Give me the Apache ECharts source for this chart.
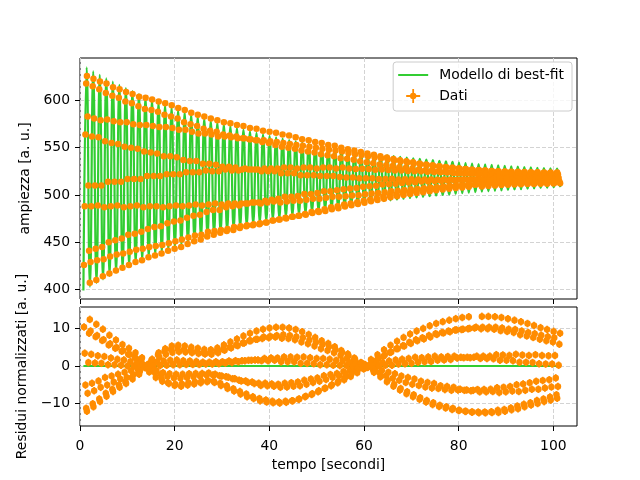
<!DOCTYPE html>
<html>
<head>
<meta charset="utf-8">
<title>Ampiezza e residui</title>
<script src="https://cdn.jsdelivr.net/npm/echarts@6.0.0/dist/echarts.min.js"></script>
<style>
  html, body { margin: 0; padding: 0; background: #fff; }
  #grafico { width: 640px; height: 480px; }
</style>
</head>
<body>
<div id="grafico"></div>
<script>
// modello di best-fit: massimi e minimi dell'oscillazione smorzata
const tempiModello = [
    0.72, 1.41, 2.10, 2.79, 3.48, 4.17, 4.86, 5.55, 6.24, 6.93, 7.62, 8.31, 9.00, 9.69, 10.38, 11.07, 11.76, 12.45, 13.14, 13.83,
    14.52, 15.21, 15.90, 16.59, 17.28, 17.97, 18.66, 19.35, 20.04, 20.73, 21.42, 22.11, 22.80, 23.49, 24.18, 24.87, 25.56, 26.25,
    26.94, 27.63, 28.32, 29.01, 29.70, 30.39, 31.08, 31.77, 32.46, 33.15, 33.84, 34.53, 35.22, 35.91, 36.60, 37.29, 37.98, 38.67,
    39.36, 40.05, 40.74, 41.43, 42.12, 42.81, 43.50, 44.19, 44.88, 45.57, 46.26, 46.95, 47.64, 48.33, 49.02, 49.71, 50.40, 51.09,
    51.78, 52.47, 53.16, 53.85, 54.54, 55.23, 55.92, 56.61, 57.30, 57.99, 58.68, 59.37, 60.06, 60.75, 61.44, 62.13, 62.82, 63.51,
    64.20, 64.89, 65.58, 66.27, 66.96, 67.65, 68.34, 69.03, 69.72, 70.41, 71.10, 71.79, 72.48, 73.17, 73.86, 74.55, 75.24, 75.93,
    76.62, 77.31, 78.00, 78.69, 79.38, 80.07, 80.76, 81.45, 82.14, 82.83, 83.52, 84.21, 84.90, 85.59, 86.28, 86.97, 87.66, 88.35,
    89.04, 89.73, 90.42, 91.11, 91.80, 92.49, 93.18, 93.87, 94.56, 95.25, 95.94, 96.63, 97.32, 98.01, 98.70, 99.39, 100.08, 100.77,
    101.46
];
const ampiezzaModello = [
    399.0, 635.0, 403.0, 631.0, 406.9, 627.2, 410.7, 623.5, 414.3, 619.9, 417.8, 616.5, 421.2, 613.1, 424.5, 609.9, 427.7, 606.8, 430.7, 603.8,
    433.7, 600.9, 436.5, 598.1, 439.3, 595.3, 442.0, 592.7, 444.6, 590.2, 447.0, 587.7, 449.5, 585.4, 451.7, 583.1, 454.0, 580.9,
    456.2, 578.7, 458.3, 576.7, 460.3, 574.7, 462.3, 572.8, 464.1, 570.9, 466.0, 569.1, 467.8, 567.4, 469.4, 565.7, 471.1, 564.1,
    472.7, 562.5, 474.3, 561.0, 475.7, 559.6, 477.1, 558.2, 478.5, 556.8, 479.9, 555.5, 481.1, 554.2, 482.4, 553.0, 483.6, 551.8,
    484.8, 550.7, 485.9, 549.6, 486.9, 548.5, 488.0, 547.5, 489.0, 546.5, 490.0, 545.5, 491.0, 544.6, 491.9, 543.7, 492.7, 542.8,
    493.6, 542.0, 494.4, 541.2, 495.2, 540.4, 496.0, 539.6, 496.8, 538.9, 497.5, 538.2, 498.1, 537.5, 498.8, 536.8, 499.5, 536.2,
    500.1, 535.6, 500.7, 535.0, 501.3, 534.4, 501.9, 533.8, 502.5, 533.3, 503.0, 532.8, 503.5, 532.3, 503.9, 531.8, 504.4, 531.3,
    504.9, 530.9, 505.3, 530.4, 505.8, 530.0, 506.2, 529.6, 506.6, 529.2, 507.0, 528.8, 507.4, 528.5, 507.7, 528.1, 508.1, 527.8,
    508.4
];

// dati campionati (una riga per periodo)
const tempiDati = [
    0.85, 1.00, 1.15, 1.31, 1.46, 1.61, 1.77, 1.92, 2.07,
    2.23, 2.38, 2.53, 2.69, 2.84, 2.99, 3.15, 3.30, 3.45,
    3.61, 3.76, 3.91, 4.07, 4.22, 4.37, 4.53, 4.68, 4.83,
    4.99, 5.14, 5.29, 5.45, 5.60, 5.75, 5.91, 6.06, 6.21,
    6.37, 6.52, 6.67, 6.83, 6.98, 7.13, 7.29, 7.44, 7.59,
    7.75, 7.90, 8.05, 8.21, 8.36, 8.51, 8.67, 8.82, 8.97,
    9.12, 9.27, 9.42, 9.58, 9.73, 9.88, 10.04, 10.19, 10.34,
    10.50, 10.65, 10.80, 10.96, 11.11, 11.26, 11.42, 11.57, 11.72,
    11.88, 12.03, 12.18, 12.34, 12.49, 12.64, 12.80, 12.95, 13.10,
    13.25, 13.40, 13.55, 13.71, 13.86, 14.01, 14.17, 14.32, 14.47,
    14.63, 14.78, 14.93, 15.09, 15.24, 15.39, 15.55, 15.70, 15.85,
    16.01, 16.16, 16.31, 16.47, 16.62, 16.77, 16.93, 17.08, 17.23,
    17.39, 17.54, 17.69, 17.85, 18.00, 18.15, 18.31, 18.46, 18.61,
    18.77, 18.92, 19.07, 19.23, 19.38, 19.53, 19.69, 19.84, 19.99,
    20.15, 20.30, 20.45, 20.61, 20.76, 20.91, 21.07, 21.22, 21.37,
    21.52, 21.67, 21.82, 21.98, 22.13, 22.28, 22.44, 22.59, 22.74,
    22.90, 23.05, 23.20, 23.36, 23.51, 23.66, 23.82, 23.97, 24.12,
    24.28, 24.43, 24.58, 24.74, 24.89, 25.04, 25.20, 25.35, 25.50,
    25.65, 25.80, 25.95, 26.11, 26.26, 26.41, 26.57, 26.72, 26.87,
    27.03, 27.18, 27.33, 27.49, 27.64, 27.79, 27.95, 28.10, 28.25,
    28.41, 28.56, 28.71, 28.87, 29.02, 29.17, 29.33, 29.48, 29.63,
    29.79, 29.94, 30.09, 30.25, 30.40, 30.55, 30.71, 30.86, 31.01,
    31.17, 31.32, 31.47, 31.63, 31.78, 31.93, 32.09, 32.24, 32.39,
    32.55, 32.70, 32.85, 33.01, 33.16, 33.31, 33.47, 33.62, 33.77,
    33.92, 34.07, 34.22, 34.38, 34.53, 34.68, 34.84, 34.99, 35.14,
    35.30, 35.45, 35.60, 35.76, 35.91, 36.06, 36.22, 36.37, 36.52,
    36.68, 36.83, 36.98, 37.14, 37.29, 37.44, 37.60, 37.75, 37.90,
    38.05, 38.20, 38.35, 38.51, 38.66, 38.81, 38.97, 39.12, 39.27,
    39.43, 39.58, 39.73, 39.89, 40.04, 40.19, 40.35, 40.50, 40.65,
    40.81, 40.96, 41.11, 41.27, 41.42, 41.57, 41.73, 41.88, 42.03,
    42.19, 42.34, 42.49, 42.65, 42.80, 42.95, 43.11, 43.26, 43.41,
    43.57, 43.72, 43.87, 44.03, 44.18, 44.33, 44.49, 44.64, 44.79,
    44.95, 45.10, 45.25, 45.41, 45.56, 45.71, 45.87, 46.02, 46.17,
    46.32, 46.47, 46.62, 46.78, 46.93, 47.08, 47.24, 47.39, 47.54,
    47.70, 47.85, 48.00, 48.16, 48.31, 48.46, 48.62, 48.77, 48.92,
    49.08, 49.23, 49.38, 49.54, 49.69, 49.84, 50.00, 50.15, 50.30,
    50.45, 50.60, 50.75, 50.91, 51.06, 51.21, 51.37, 51.52, 51.67,
    51.83, 51.98, 52.13, 52.29, 52.44, 52.59, 52.75, 52.90, 53.05,
    53.21, 53.36, 53.51, 53.67, 53.82, 53.97, 54.13, 54.28, 54.43,
    54.59, 54.74, 54.89, 55.05, 55.20, 55.35, 55.51, 55.66, 55.81,
    55.97, 56.12, 56.27, 56.43, 56.58, 56.73, 56.89, 57.04, 57.19,
    57.35, 57.50, 57.65, 57.81, 57.96, 58.11, 58.27, 58.42, 58.57,
    58.72, 58.87, 59.02, 59.18, 59.33, 59.48, 59.64, 59.79, 59.94,
    60.10, 60.25, 60.40, 60.56, 60.71, 60.86, 61.02, 61.17, 61.32,
    61.48, 61.63, 61.78, 61.94, 62.09, 62.24, 62.40, 62.55, 62.70,
    62.85, 63.00, 63.15, 63.31, 63.46, 63.61, 63.77, 63.92, 64.07,
    64.23, 64.38, 64.53, 64.69, 64.84, 64.99, 65.15, 65.30, 65.45,
    65.61, 65.76, 65.91, 66.07, 66.22, 66.37, 66.53, 66.68, 66.83,
    66.98, 67.13, 67.28, 67.44, 67.59, 67.74, 67.90, 68.05, 68.20,
    68.36, 68.51, 68.66, 68.82, 68.97, 69.12, 69.28, 69.43, 69.58,
    69.74, 69.89, 70.04, 70.20, 70.35, 70.50, 70.66, 70.81, 70.96,
    71.12, 71.27, 71.42, 71.58, 71.73, 71.88, 72.04, 72.19, 72.34,
    72.50, 72.65, 72.80, 72.96, 73.11, 73.26, 73.42, 73.57, 73.72,
    73.88, 74.03, 74.18, 74.34, 74.49, 74.64, 74.80, 74.95, 75.10,
    75.25, 75.40, 75.55, 75.71, 75.86, 76.01, 76.17, 76.32, 76.47,
    76.63, 76.78, 76.93, 77.09, 77.24, 77.39, 77.55, 77.70, 77.85,
    78.01, 78.16, 78.31, 78.47, 78.62, 78.77, 78.93, 79.08, 79.23,
    79.38, 79.53, 79.68, 79.84, 79.99, 80.14, 80.30, 80.45, 80.60,
    80.76, 80.91, 81.06, 81.22, 81.37, 81.52, 81.68, 81.83, 81.98,
    82.14, 82.29, 82.44, 82.60, 82.75, 82.90, 83.06, 83.21, 83.36,
    83.67, 83.82, 83.98, 84.13, 84.28, 84.44, 84.59, 84.74, 84.90,
    85.05, 85.20, 85.36, 85.51, 85.66, 85.82, 85.97, 86.12, 86.28,
    86.43, 86.58, 86.74, 86.89, 87.04, 87.20, 87.35, 87.50, 87.66,
    87.80, 87.95, 88.11, 88.26, 88.41, 88.57, 88.72, 88.87, 89.03,
    89.18, 89.33, 89.49, 89.64, 89.79, 89.95, 90.10, 90.25, 90.41,
    90.56, 90.71, 90.87, 91.02, 91.17, 91.33, 91.48, 91.63, 91.79,
    91.93, 92.08, 92.24, 92.39, 92.54, 92.70, 92.85, 93.00, 93.16,
    93.31, 93.46, 93.62, 93.77, 93.92, 94.08, 94.23, 94.38, 94.54,
    94.69, 94.84, 95.00, 95.15, 95.30, 95.46, 95.61, 95.76, 95.92,
    96.07, 96.22, 96.38, 96.53, 96.68, 96.84, 96.99, 97.14, 97.30,
    97.45, 97.60, 97.76, 97.91, 98.06, 98.22, 98.37, 98.52, 98.68,
    98.83, 98.98, 99.14, 99.29, 99.44, 99.60, 99.75, 99.90, 100.06,
    100.20, 100.35, 100.51, 100.66, 100.81, 100.97, 101.12, 101.27, 101.43
];
const ampiezzaDati = [
    426, 488, 564, 618, 626, 583, 510, 441, 407,
    429, 488, 562, 615, 623, 581, 510, 443, 410,
    431, 489, 561, 612, 620, 579, 510, 445, 414,
    432, 487, 557, 608, 618, 580, 514, 450, 417,
    435, 488, 555, 605, 614, 578, 514, 452, 420,
    437, 489, 554, 603, 612, 577, 514, 454, 423,
    438, 487, 551, 599, 609, 577, 517, 458, 426,
    440, 488, 550, 597, 607, 575, 517, 459, 429,
    442, 489, 549, 594, 604, 574, 517, 461, 431,
    443, 487, 546, 591, 603, 574, 520, 464, 434,
    445, 488, 545, 590, 601, 573, 520, 466, 436,
    446, 488, 544, 588, 599, 572, 520, 467, 438,
    447, 487, 541, 585, 597, 572, 522, 470, 441,
    449, 488, 541, 583, 595, 571, 522, 472, 443,
    451, 489, 540, 581, 592, 569, 522, 473, 445,
    453, 488, 537, 577, 590, 569, 524, 476, 448,
    455, 489, 536, 575, 587, 567, 524, 478, 451,
    457, 490, 536, 573, 585, 565, 524, 479, 453,
    458, 489, 533, 570, 583, 565, 526, 482, 456,
    461, 490, 533, 568, 581, 564, 525, 484, 458,
    462, 491, 532, 567, 579, 562, 525, 484, 460,
    463, 490, 530, 564, 577, 562, 527, 487, 462,
    464, 491, 530, 563, 576, 561, 526, 488, 463,
    466, 491, 529, 562, 574, 560, 526, 489, 465,
    467, 491, 527, 560, 573, 560, 528, 491, 467,
    468, 491, 527, 559, 571, 559, 527, 492, 468,
    469, 492, 527, 558, 570, 558, 527, 492, 469,
    470, 491, 525, 556, 568, 558, 528, 494, 471,
    471, 492, 525, 555, 567, 557, 528, 495, 473,
    473, 493, 525, 553, 566, 556, 528, 496, 474,
    474, 492, 523, 551, 564, 555, 529, 498, 476,
    475, 493, 523, 550, 563, 554, 529, 498, 477,
    477, 494, 523, 549, 561, 553, 528, 499, 478,
    478, 494, 521, 547, 559, 552, 529, 501, 480,
    479, 495, 521, 546, 558, 551, 529, 501, 482,
    481, 496, 521, 545, 556, 550, 528, 502, 483,
    482, 496, 520, 543, 555, 549, 529, 504, 485,
    483, 497, 520, 542, 553, 548, 529, 504, 487,
    485, 498, 520, 541, 552, 547, 528, 505, 488,
    486, 498, 519, 539, 550, 546, 529, 506, 490,
    487.7, 498.6, 518.5, 538.3, 548.5, 544.5, 528.1, 506.9, 491.0,
    489.1, 499.5, 518.5, 537.3, 547.0, 543.2, 527.6, 507.5, 492.3,
    490.5, 499.8, 517.6, 535.6, 545.4, 542.4, 527.9, 508.8, 494.0,
    491.9, 500.8, 517.6, 534.7, 543.9, 541.0, 527.4, 509.3, 495.3,
    493.4, 501.7, 517.7, 533.7, 542.5, 539.7, 526.8, 509.8, 496.6,
    494.7, 502.1, 516.9, 532.3, 540.9, 538.9, 527.0, 511.0, 498.2,
    496.1, 503.0, 517.0, 531.4, 539.6, 537.6, 526.5, 511.4, 499.4,
    497.5, 504.0, 517.1, 530.6, 538.2, 536.4, 525.9, 511.8, 500.5,
    498.7, 504.4, 516.5, 529.3, 536.8, 535.5, 526.0, 512.8, 502.0,
    499.9, 505.3, 516.6, 528.6, 535.6, 534.4, 525.5, 513.1, 503.0,
    501.0, 506.0, 516.7, 528.0, 534.6, 533.4, 525.1, 513.4, 503.9,
    502.0, 506.4, 516.3, 526.9, 533.4, 532.6, 525.1, 514.2, 505.1,
    503.0, 507.2, 516.4, 526.3, 532.4, 531.7, 524.6, 514.4, 505.9,
    504.0, 507.9, 516.5, 525.8, 531.4, 530.8, 524.2, 514.7, 506.7,
    504.9, 508.3, 516.2, 525.0, 530.5, 530.1, 524.1, 515.2, 507.7,
    505.7, 508.9, 516.3, 524.5, 529.7, 529.4, 523.8, 515.4, 508.3,
    506.5, 509.5, 516.4, 524.1, 528.9, 528.7, 523.4, 515.6, 508.9,
    507.3, 509.8, 516.2, 523.4, 528.1, 528.0, 523.3, 516.1, 509.8,
    508.0, 510.4, 516.3, 523.1, 527.4, 527.4, 523.0, 516.2, 510.3,
    508.6, 510.8, 516.4, 522.7, 526.8, 526.8, 522.7, 516.3, 510.8,
    511.0, 516.2, 522.2, 526.3, 526.4, 522.6, 516.7, 511.3, 509.1,
    511.4, 516.3, 522.0, 525.8, 526.0, 522.4, 516.8, 511.7, 509.6,
    511.8, 516.4, 521.8, 525.3, 525.5, 522.1, 516.8, 512.1, 510.1,
    512.0, 516.3, 521.4, 524.9, 525.2, 522.1, 517.1, 512.5, 510.5,
    512.2, 516.3, 521.2, 524.6, 524.9, 522.0, 517.2, 512.8, 510.8,
    512.5, 516.4, 521.1, 524.3, 524.6, 521.8, 517.2, 513.0, 511.1,
    512.5, 516.3, 520.8, 524.1, 524.5, 521.9, 517.4, 513.3, 511.3,
    512.7, 516.3, 520.7, 523.9, 524.3, 521.7, 517.4, 513.4, 511.5,
    512.8, 516.4, 520.7, 523.7, 524.1, 521.6, 517.5, 513.6, 511.7,
    512.8, 516.2, 520.4, 523.5, 524.0, 521.7, 517.7, 513.8, 511.8,
    512.9, 516.2, 520.4, 523.4, 523.9, 521.7, 517.7, 513.8, 511.9,
    513.1, 516.3, 520.3, 523.3, 523.7, 521.5, 517.7, 514.0, 512.1,
    513.0, 516.1, 520.1, 523.1, 523.7, 521.6, 517.9, 514.2, 512.3
];
const residuiDati = [
    10.4, 3.4, -5.1, -11.3, -12.1, -7.3, 0.9, 8.7, 12.4,
    9.3, 3.1, -4.6, -10.1, -10.9, -6.6, 0.8, 7.8, 11.1,
    8.1, 2.7, -4.0, -8.8, -9.5, -5.7, 0.7, 6.8, 9.8,
    7.0, 2.5, -3.1, -7.3, -8.1, -5.1, 0.3, 5.6, 8.2,
    5.9, 2.1, -2.7, -6.2, -6.8, -4.3, 0.3, 4.7, 6.9,
    4.9, 1.8, -2.2, -5.1, -5.7, -3.5, 0.2, 3.9, 5.7,
    4.1, 1.6, -1.7, -4.2, -4.7, -3.1, 0.0, 3.1, 4.7,
    3.1, 1.2, -1.3, -3.1, -3.5, -2.3, 0.0, 2.3, 3.5,
    1.9, 0.7, -0.8, -1.9, -2.2, -1.4, 0.0, 1.4, 2.2,
    0.4, 0.2, -0.2, -0.4, -0.5, -0.3, 0.0, 0.3, 0.5,
    -1.6, -0.7, 0.6, 1.5, 1.8, 1.2, 0.0, -1.1, -1.8,
    -3.1, -1.3, 1.1, 3.0, 3.5, 2.3, 0.1, -2.2, -3.4,
    -4.1, -1.8, 1.3, 3.9, 4.6, 3.1, 0.2, -2.8, -4.5,
    -4.7, -2.1, 1.5, 4.4, 5.3, 3.6, 0.3, -3.2, -5.2,
    -4.9, -2.2, 1.6, 4.6, 5.5, 3.8, 0.3, -3.3, -5.4,
    -4.8, -2.2, 1.4, 4.4, 5.3, 3.7, 0.4, -3.1, -5.1,
    -4.5, -2.1, 1.3, 4.1, 5.0, 3.5, 0.4, -2.9, -4.8,
    -4.3, -2.0, 1.2, 3.9, 4.7, 3.3, 0.4, -2.7, -4.5,
    -4.0, -2.0, 1.0, 3.5, 4.4, 3.2, 0.5, -2.4, -4.2,
    -3.9, -1.9, 1.0, 3.5, 4.3, 3.1, 0.5, -2.4, -4.1,
    -4.4, -2.2, 1.1, 3.9, 4.8, 3.5, 0.6, -2.6, -4.6,
    -5.2, -2.7, 1.1, 4.4, 5.6, 4.2, 0.8, -2.9, -5.3,
    -6.0, -3.0, 1.3, 5.0, 6.4, 4.8, 0.9, -3.4, -6.1,
    -6.7, -3.4, 1.4, 5.6, 7.2, 5.4, 1.1, -3.8, -6.8,
    -7.5, -4.0, 1.4, 6.1, 8.0, 6.1, 1.4, -4.0, -7.5,
    -8.2, -4.4, 1.5, 6.7, 8.7, 6.7, 1.5, -4.3, -8.2,
    -8.7, -4.7, 1.6, 7.1, 9.3, 7.1, 1.6, -4.6, -8.7,
    -9.3, -5.2, 1.4, 7.3, 9.8, 7.7, 2.0, -4.6, -9.1,
    -9.6, -5.3, 1.4, 7.5, 10.1, 7.9, 2.1, -4.8, -9.4,
    -9.8, -5.4, 1.5, 7.7, 10.3, 8.1, 2.1, -4.9, -9.6,
    -9.9, -5.7, 1.1, 7.4, 10.3, 8.3, 2.4, -4.6, -9.4,
    -9.7, -5.6, 1.1, 7.3, 10.1, 8.1, 2.4, -4.5, -9.3,
    -9.3, -5.4, 1.1, 7.0, 9.7, 7.8, 2.3, -4.3, -8.9,
    -8.8, -5.3, 0.7, 6.4, 9.1, 7.5, 2.4, -3.8, -8.2,
    -8.1, -4.9, 0.7, 5.9, 8.4, 6.9, 2.2, -3.5, -7.6,
    -7.4, -4.4, 0.6, 5.3, 7.6, 6.3, 2.0, -3.2, -6.9,
    -6.6, -4.1, 0.3, 4.6, 6.7, 5.7, 2.0, -2.6, -6.0,
    -5.9, -3.6, 0.3, 4.1, 6.0, 5.1, 1.8, -2.3, -5.3,
    -5.0, -3.1, 0.2, 3.5, 5.1, 4.3, 1.5, -2.0, -4.5,
    -4.1, -2.6, 0.1, 2.8, 4.1, 3.6, 1.4, -1.5, -3.7,
    -3.1, -2.0, 0.1, 2.1, 3.2, 2.7, 1.0, -1.1, -2.8,
    -2.1, -1.3, 0.0, 1.4, 2.1, 1.8, 0.7, -0.8, -1.8,
    -0.9, -0.6, 0.0, 0.6, 0.9, 0.8, 0.3, -0.3, -0.8,
    0.4, 0.3, 0.0, -0.3, -0.4, -0.3, -0.1, 0.1, 0.3,
    1.7, 1.1, 0.0, -1.1, -1.7, -1.5, -0.6, 0.6, 1.5,
    3.0, 2.0, 0.1, -1.8, -2.9, -2.7, -1.2, 0.9, 2.5,
    4.3, 2.9, 0.2, -2.6, -4.2, -3.8, -1.7, 1.3, 3.6,
    5.5, 3.7, 0.2, -3.3, -5.4, -4.9, -2.1, 1.6, 4.6,
    6.6, 4.6, 0.5, -3.8, -6.4, -6.0, -2.7, 1.8, 5.4,
    7.6, 5.3, 0.6, -4.4, -7.4, -6.9, -3.1, 2.0, 6.3,
    8.5, 6.0, 0.7, -4.9, -8.2, -7.7, -3.5, 2.3, 7.0,
    9.3, 6.7, 1.0, -5.2, -8.9, -8.5, -4.1, 2.2, 7.5,
    10.0, 7.2, 1.1, -5.6, -9.6, -9.2, -4.4, 2.4, 8.1,
    10.7, 7.7, 1.2, -5.9, -10.3, -9.8, -4.7, 2.6, 8.6,
    11.3, 8.4, 1.5, -6.0, -10.8, -10.5, -5.3, 2.4, 8.9,
    11.8, 8.8, 1.6, -6.3, -11.2, -10.9, -5.5, 2.5, 9.3,
    12.2, 9.1, 1.7, -6.5, -11.6, -11.3, -5.7, 2.6, 9.6,
    12.6, 9.6, 2.1, -6.4, -11.9, -11.8, -6.2, 2.3, 9.7,
    12.9, 9.8, 2.2, -6.5, -12.1, -12.1, -6.4, 2.3, 9.9,
    13.1, 10.0, 2.2, -6.6, -12.3, -12.3, -6.5, 2.3, 10.1,
    10.3, 2.6, -6.3, -12.3, -12.5, -6.9, 2.0, 9.9, 13.2,
    10.3, 2.6, -6.3, -12.3, -12.5, -6.9, 2.0, 9.9, 13.2,
    10.3, 2.6, -6.2, -12.2, -12.4, -6.8, 1.9, 9.8, 13.1,
    10.3, 3.0, -5.8, -11.8, -12.4, -7.1, 1.5, 9.4, 12.9,
    10.1, 2.9, -5.7, -11.6, -12.1, -6.9, 1.5, 9.2, 12.6,
    9.8, 2.8, -5.5, -11.2, -11.7, -6.7, 1.4, 8.9, 12.2,
    9.7, 3.1, -5.0, -10.7, -11.4, -6.8, 1.0, 8.3, 11.8,
    9.3, 2.9, -4.8, -10.2, -10.9, -6.5, 1.0, 8.0, 11.3,
    8.9, 2.8, -4.5, -9.8, -10.4, -6.2, 0.9, 7.6, 10.8,
    8.6, 3.0, -4.1, -9.2, -10.0, -6.2, 0.6, 7.1, 10.2,
    8.2, 2.8, -3.9, -8.8, -9.5, -5.9, 0.5, 6.7, 9.7,
    7.8, 2.7, -3.7, -8.3, -9.1, -5.6, 0.5, 6.4, 9.2,
    7.5, 2.8, -3.2, -7.7, -8.6, -5.5, 0.2, 5.8, 8.7
];
const erroreResidui = 1;

const tickTempo = [0, 20, 40, 60, 80, 100];
const tickAmpiezza = [400, 450, 500, 550, 600];
const tickResidui = [-10, 0, 10];

const VERDE = '#32cd32';
const ARANCIO = '#ff8c00';
const FONT = 'DejaVu Sans';
const GRIGLIA = { show: true, lineStyle: { color: '#d3d3d3', type: [4, 2], width: 1 } };

function etichetta(v) {
    return String(v).replace('-', '\u2212');
}

function asse(gridIndex, min, max, tick, conEtichette) {
    return {
        type: 'value',
        gridIndex: gridIndex,
        min: min,
        max: max,
        axisLine: { show: false, onZero: false },
        axisTick: { show: true, length: 5, customValues: tick, lineStyle: { color: '#000', width: 1 } },
        axisLabel: {
            show: conEtichette,
            customValues: tick,
            margin: 10,
            color: '#000',
            fontFamily: FONT,
            fontSize: 13.9,
            formatter: etichetta
        },
        splitLine: GRIGLIA
    };
}

function barreErrore(params, api) {
    const t = api.value(0);
    const r = api.value(1);
    const alto = api.coord([t, r + erroreResidui]);
    const basso = api.coord([t, r - erroreResidui]);
    return {
        type: 'line',
        shape: { x1: alto[0], y1: alto[1], x2: basso[0], y2: basso[1] },
        style: { stroke: ARANCIO, lineWidth: 1.8 }
    };
}

const modello = tempiModello.map((t, i) => [t, ampiezzaModello[i]]);
const punti = tempiDati.map((t, i) => [t, ampiezzaDati[i]]);
const residui = tempiDati.map((t, i) => [t, residuiDati[i]]);
const zero = [[tempiModello[0], 0], [tempiModello[tempiModello.length - 1], 0]];

const iconaLinea = 'path://M0,0M30,14M0,6H30V8H0Z';
const iconaDati = 'path://M0,0M30,14M14.1,0H15.9V14H14.1Z M8,6.1H22V7.9H8Z M18.2,7A3.2,3.2,0,1,1,11.8,7A3.2,3.2,0,1,1,18.2,7Z';

const chart = echarts.init(document.getElementById('grafico'), null, { renderer: 'canvas' });

const xMain = asse(0, 0, 105, tickTempo, false);
const xRes = asse(1, 0, 105, tickTempo, true);
xRes.axisLabel.margin = 13;
xRes.name = 'tempo [secondi]';
xRes.nameLocation = 'middle';
xRes.nameGap = 32;
xRes.nameTextStyle = { color: '#000', fontFamily: FONT, fontSize: 13.9 };

const yMain = asse(0, 389.9, 645, tickAmpiezza, true);
yMain.splitNumber = 5;
yMain.name = 'ampiezza [a. u.]';
yMain.nameLocation = 'middle';
yMain.nameGap = 45;
yMain.nameTextStyle = { color: '#000', fontFamily: FONT, fontSize: 13.9 };

const yRes = asse(1, -16, 15.7, tickResidui, true);
yRes.splitNumber = 3;
yRes.name = 'Residui normalizzati [a. u.]';
yRes.nameLocation = 'middle';
yRes.nameGap = 49;
yRes.nameTextStyle = { color: '#000', fontFamily: FONT, fontSize: 13.9 };

chart.setOption({
    animation: false,
    backgroundColor: '#fff',
    textStyle: { fontFamily: FONT },
    grid: [
        { left: 80, right: 63, top: 58, height: 241, show: true, borderColor: '#000', borderWidth: 1, backgroundColor: 'transparent' },
        { left: 80, right: 63, top: 307, height: 119, show: true, borderColor: '#000', borderWidth: 1, backgroundColor: 'transparent' }
    ],
    xAxis: [xMain, xRes],
    yAxis: [yMain, yRes],
    legend: {
        data: [
            { name: 'Modello di best-fit', icon: iconaLinea },
            { name: 'Dati', icon: iconaDati }
        ],
        selectedMode: false,
        orient: 'vertical',
        right: 68,
        top: 62,
        itemWidth: 30,
        itemHeight: 14,
        itemGap: 7,
        padding: [6, 8, 8, 5],
        backgroundColor: 'rgba(255,255,255,0.8)',
        borderColor: '#cccccc',
        borderWidth: 1,
        borderRadius: 3,
        textStyle: { color: '#000', fontFamily: FONT, fontSize: 13.9, padding: [0, 0, 0, 6] }
    },
    series: [
        {
            name: 'Modello di best-fit',
            type: 'line',
            xAxisIndex: 0,
            yAxisIndex: 0,
            data: modello,
            smooth: 0.5,
            showSymbol: false,
            color: VERDE,
            itemStyle: { color: VERDE },
            lineStyle: { color: VERDE, width: 2.2 },
            z: 2
        },
        {
            name: 'Dati',
            type: 'scatter',
            xAxisIndex: 0,
            yAxisIndex: 0,
            data: punti,
            symbol: 'circle',
            symbolSize: 6.5,
            itemStyle: { color: ARANCIO, opacity: 1 },
            z: 3
        },
        {
            type: 'line',
            xAxisIndex: 1,
            yAxisIndex: 1,
            data: zero,
            showSymbol: false,
            lineStyle: { color: VERDE, width: 2 },
            z: 2
        },
        {
            type: 'custom',
            xAxisIndex: 1,
            yAxisIndex: 1,
            data: residui,
            renderItem: barreErrore,
            z: 3
        },
        {
            type: 'scatter',
            xAxisIndex: 1,
            yAxisIndex: 1,
            data: residui,
            symbol: 'circle',
            symbolSize: 6.5,
            itemStyle: { color: ARANCIO, opacity: 1 },
            z: 3
        }
    ]
});
</script>
</body>
</html>
